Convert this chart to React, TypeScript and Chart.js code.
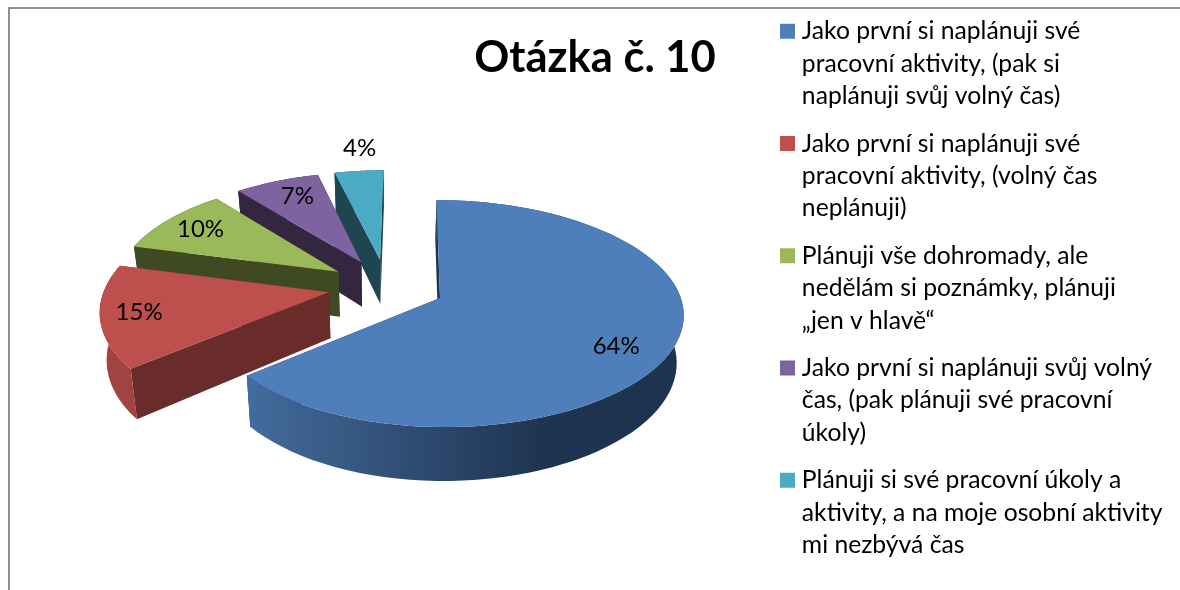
import React, { useEffect, useRef } from "react";
import { Chart, registerables } from "chart.js";

Chart.register(...registerables);

const categories: string[][] = [
  ["Jako první si naplánuji své", "pracovní aktivity, (pak si", "naplánuji svůj volný čas)"],
  ["Jako první si naplánuji své", "pracovní aktivity, (volný čas", "neplánuji)"],
  ["Plánuji vše dohromady, ale", "nedělám si poznámky, plánuji", "„jen v hlavě“"],
  ["Jako první si naplánuji svůj volný", "čas, (pak plánuji své pracovní", "úkoly)"],
  ["Plánuji si své pracovní úkoly a", "aktivity, a na moje osobní aktivity", "mi nezbývá čas"],
];
const percents = [64, 15, 10, 7, 4];
const topColors = ["#4f7fbb", "#bd4f4c", "#9aba59", "#7f63a1", "#4babc5"];
const wallColors = ["#1f3450", "#6a2b2b", "#404a22", "#33263f", "#1e4550"];
const titleText = "Otázka č. 10";

const FONT = "Lato, Carlito, sans-serif";
// projection of the pie plane to the screen
const ORIGIN_X = 440, ORIGIN_Y = 298, SCALE_X = 236, SCALE_Y = 111.4, PERSP = 0.137, PERSP_X = 0.02, SKEW = 4;
const DEPTH = 46.5, VANISH_X = 390, SHRINK = 0.024;
const LABEL_RADIUS = [0.8, 0.83, 0.8, 0.78, 1.3];
const LABEL_FRACTION = [0.524, 0.5, 0.5, 0.56, 0.6];

const pie3d = {
  id: "pie3d",
  afterLayout(chart: any) {
    const lg = chart.legend;
    const h = lg.bottom - lg.top;
    lg.top = 4;
    lg.bottom = 4 + h;
    lg.left = 770.5;
    lg.right = 1180;
    lg.width = 409.5;
  },
  beforeDatasetsDraw(chart: any) {
    const ctx: CanvasRenderingContext2D = chart.ctx;
    const arcs = chart.getDatasetMeta(0).data as any[];
    const dir = (a: any) => {
      const m = (a.startAngle + a.endAngle) / 2;
      return [Math.cos(m), Math.sin(m)];
    };
    const exp = (a: any) => a.options.offset / 4 / a.outerRadius;
    const d0 = dir(arcs[0]);
    const e0 = exp(arcs[0]);
    const proj = (X: number, Y: number, z = 0) => {
      const den = 1 - PERSP * Y;
      let sx = ORIGIN_X + (SCALE_X * X + SKEW * Y) / (den - PERSP_X * X);
      const sy = ORIGIN_Y + (SCALE_Y * Y + z * DEPTH) / den;
      sx = VANISH_X + (sx - VANISH_X) * (1 - SHRINK * z);
      return [sx, sy];
    };
    const poly = (pts: number[][], fill: any) => {
      ctx.beginPath();
      pts.forEach((p, i) => (i ? ctx.lineTo(p[0], p[1]) : ctx.moveTo(p[0], p[1])));
      ctx.closePath();
      ctx.fillStyle = fill;
      ctx.fill();
    };
    const order = arcs.map((_, i) => i).reverse();
    const labels: any[] = [];
    order.forEach((i) => {
      const a = arcs[i];
      const d = dir(a);
      const e = exp(a);
      const cx = e * d[0] - e0 * d0[0];
      const cy = e * d[1] - e0 * d0[1];
      const n = 80;
      const rim: number[][] = [];
      for (let k = 0; k <= n; k++) {
        const t = a.startAngle + ((a.endAngle - a.startAngle) * k) / n;
        rim.push([cx + Math.cos(t), cy + Math.sin(t)]);
      }
      const apexTop = proj(cx, cy);
      const apexBot = proj(cx, cy, 1);
      const topRim = rim.map((p) => proj(p[0], p[1]));
      const botRim = rim.map((p) => proj(p[0], p[1], 1));
      const wall = wallColors[i];
      poly([apexTop, topRim[0], botRim[0], apexBot], wall);
      poly([apexTop, topRim[n], botRim[n], apexBot], wall);
      let outer: any = wall;
      if (i === 0) {
        outer = ctx.createLinearGradient(250, 0, 545, 0);
        outer.addColorStop(0, "#436b9c");
        outer.addColorStop(1, "#1e3350");
      } else if (i === 1) {
        outer = "#a04341";
      }
      poly([...topRim, ...botRim.slice().reverse()], outer);
      poly([apexTop, ...topRim], a.options.backgroundColor);
      const r = LABEL_RADIUS[i];
      const lt = a.startAngle + (a.endAngle - a.startAngle) * LABEL_FRACTION[i];
      labels.push([percents[i] + "%", proj(cx + r * Math.cos(lt), cy + r * Math.sin(lt))]);
    });
    ctx.fillStyle = "#000";
    ctx.font = `24px ${FONT}`;
    ctx.textAlign = "center";
    ctx.textBaseline = "middle";
    labels.forEach(([t, p]) => ctx.fillText(t, p[0], p[1]));
    return false;
  },
};

export default function App() {
  const ref = useRef<HTMLCanvasElement>(null);
  useEffect(() => {
    const chart = new Chart(ref.current!, {
      type: "pie",
      data: {
        labels: categories as any,
        datasets: [{ data: percents, backgroundColor: topColors, borderWidth: 0, offset: 167, hoverOffset: 0 } as any],
      },
      options: {
        animation: false,
        responsive: false,
        layout: { padding: { left: 10, right: 0, top: 0, bottom: 0 } },
        plugins: {
          tooltip: { enabled: false },
          title: {
            display: true,
            text: titleText,
            color: "#000",
            font: { family: FONT, size: 43.5, weight: "bold" },
            padding: { top: 32, bottom: 10 },
          },
          legend: {
            position: "right",
            align: "start",
            labels: {
              boxWidth: 4,
              boxHeight: 4,
              color: "#000",
              padding: 15,
              font: { family: FONT, size: 24.7, lineHeight: 1.312 },
              generateLabels: () =>
                categories.map((t, i) => ({
                  text: t,
                  fillStyle: topColors[i],
                  strokeStyle: topColors[i],
                  lineWidth: 11,
                  index: i,
                  hidden: false,
                })),
            },
          },
        },
      } as any,
      plugins: [pie3d as any],
    });
    return () => chart.destroy();
  }, []);
  return (
    <div style={{ position: "absolute", left: 0, top: 0, width: 1180, height: 590, overflow: "hidden", background: "#fff" }}>
      <div style={{ position: "absolute", left: 8, top: 7, right: 0, bottom: 0, borderLeft: "2px solid #8e8e8e", borderTop: "2px solid #8e8e8e" }} />
      <canvas ref={ref} width={1180} height={590} style={{ position: "absolute", left: 0, top: 0 }} />
    </div>
  );
}
